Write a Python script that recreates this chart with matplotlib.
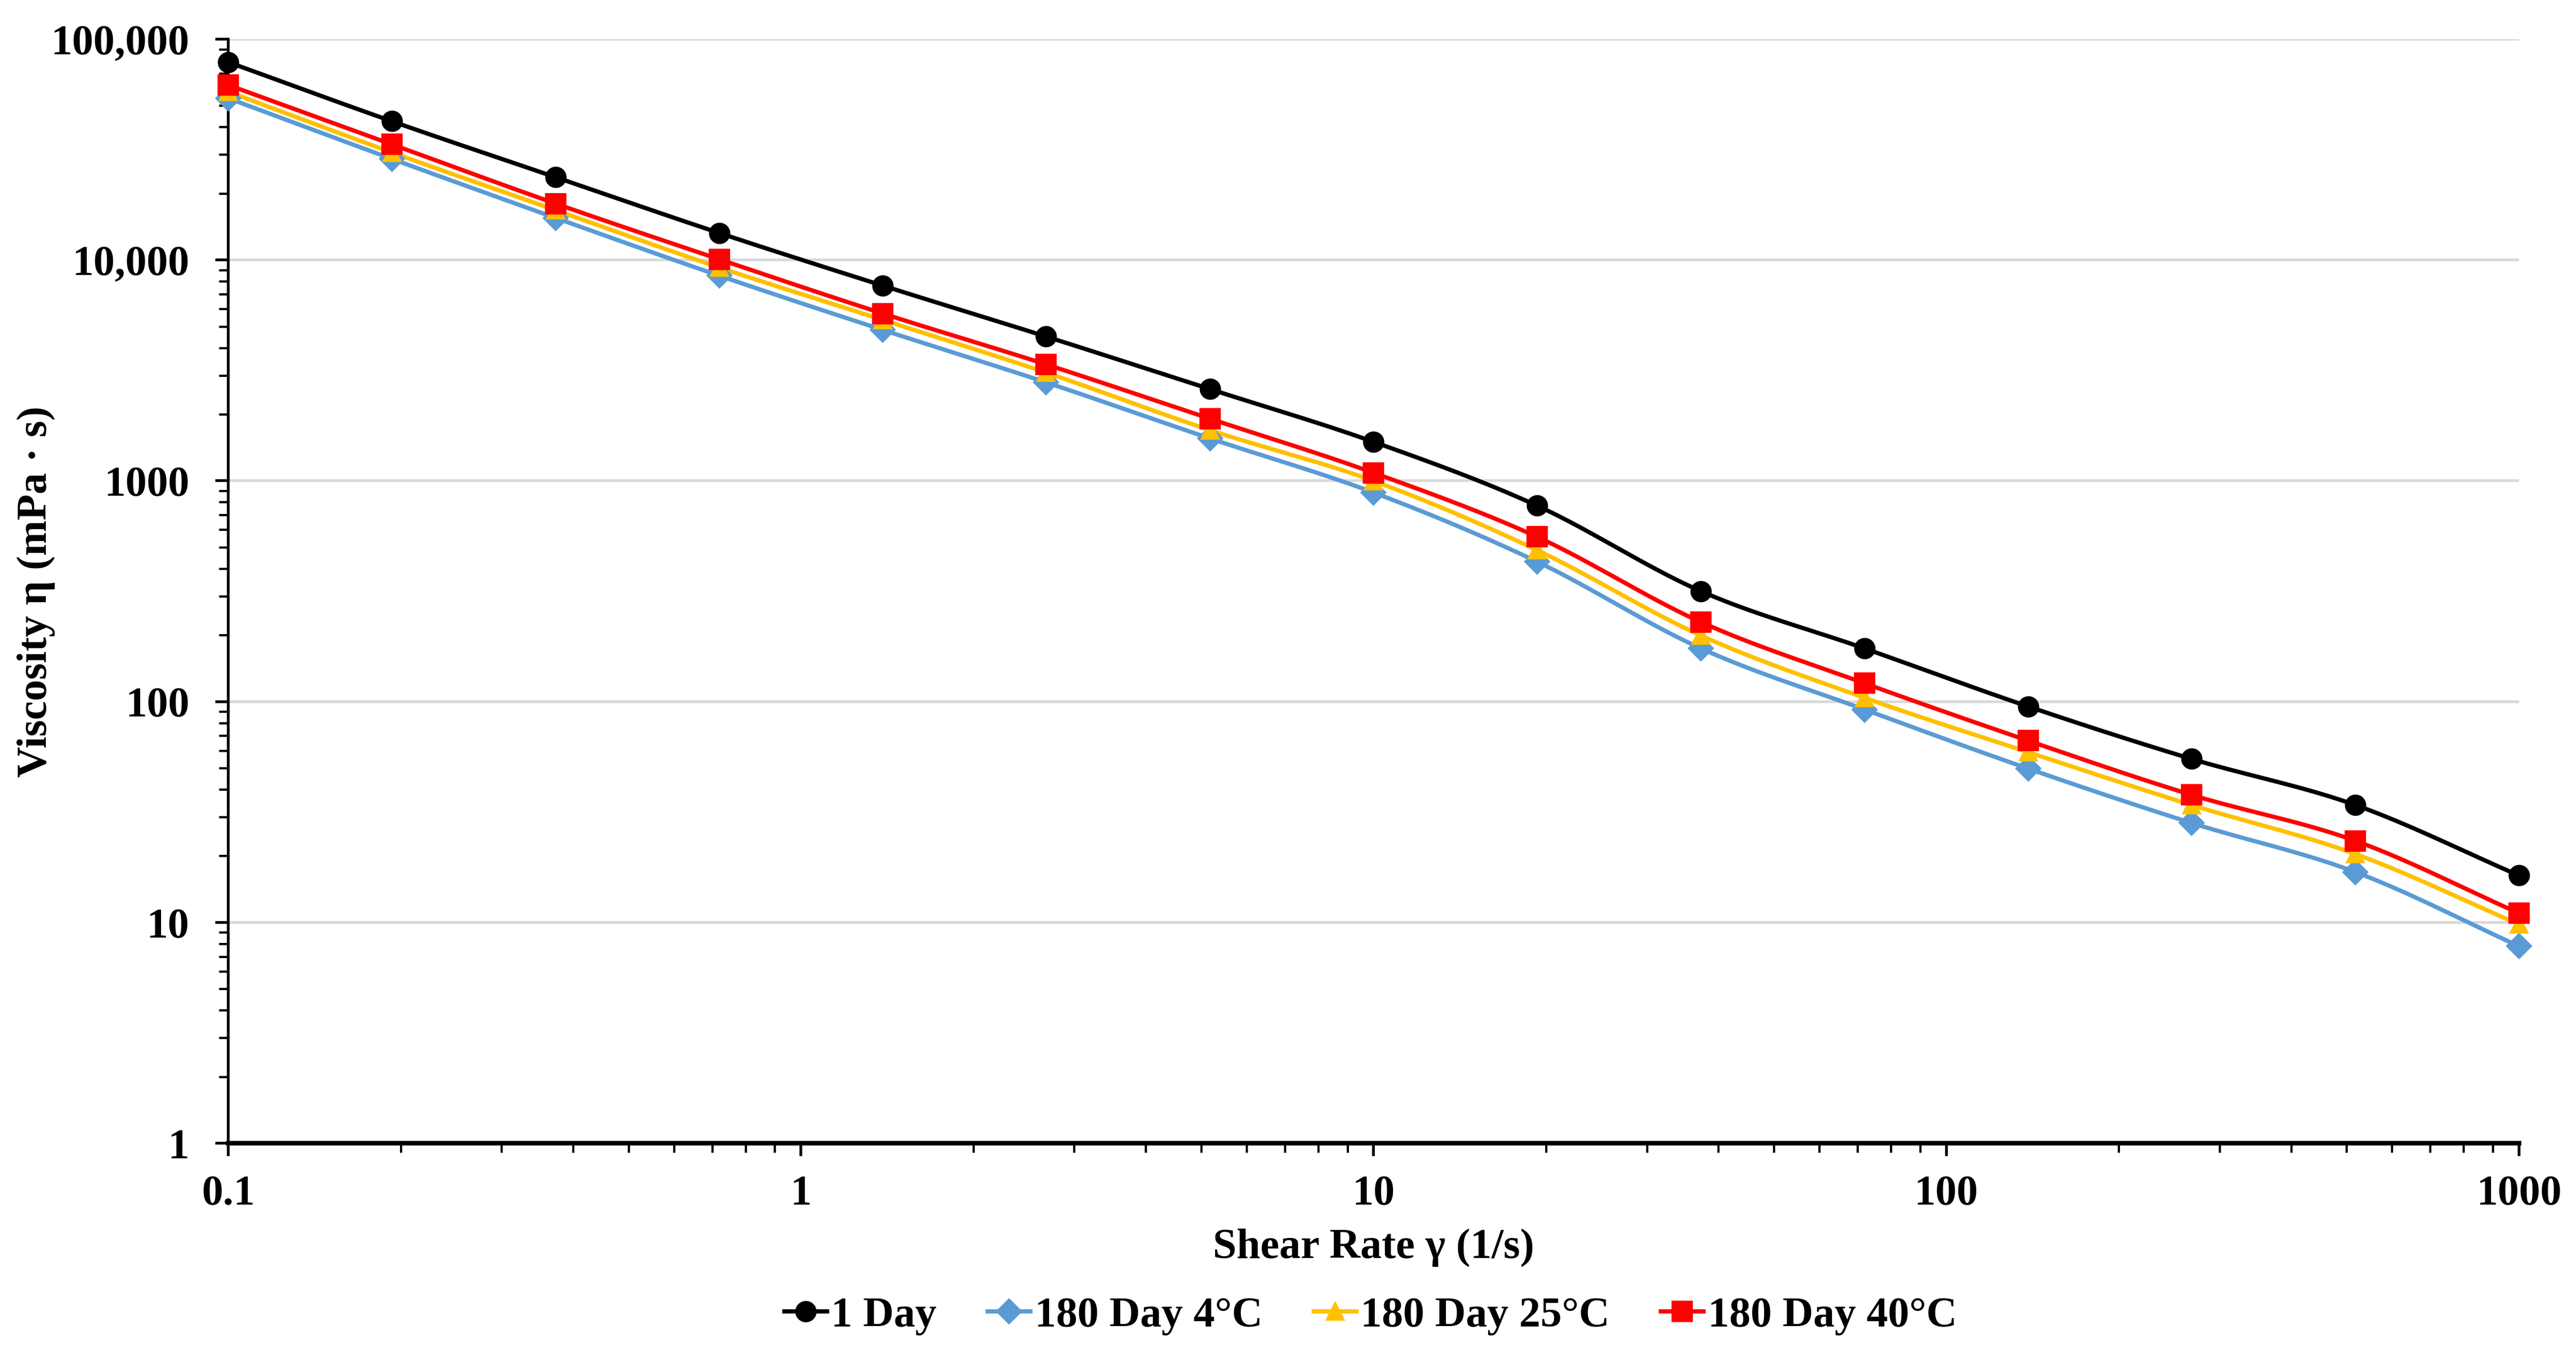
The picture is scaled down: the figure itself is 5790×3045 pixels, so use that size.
import matplotlib
matplotlib.use('Agg')
import matplotlib.pyplot as plt
import matplotlib.ticker as mticker
import numpy as np

shear_rate = [0.1, 0.193, 0.373, 0.72, 1.39, 2.68, 5.18, 10, 19.3, 37.3, 72, 139, 268, 518, 1000]
day1 = [78700, 42500, 23700, 13250, 7650, 4500, 2600, 1500, 771, 316, 174, 95, 55, 34, 16.3]
day180_4c = [54000, 28700, 15500, 8490, 4820, 2790, 1555, 884, 430, 174, 92, 49.7, 28.2, 16.9, 7.8]
day180_25c = [57800, 30700, 16800, 9250, 5350, 3090, 1695, 998, 485, 199, 104, 59, 34, 20.4, 9.8]
day180_40c = [62000, 33400, 18000, 10070, 5720, 3365, 1910, 1086, 557, 229, 121, 66.5, 37.8, 23.4, 11.0]

series = [
    ("1 Day", day1, "#000000", "o"),
    ("180 Day 4°C", day180_4c, "#5B9BD5", "D"),
    ("180 Day 25°C", day180_25c, "#FFC000", "^"),
    ("180 Day 40°C", day180_40c, "#FF0000", "s"),
]


def smooth(x, y, n=20):
    # catmull-rom through the points in log-log space (like excel smoothed lines)
    lx = np.log10(x)
    ly = np.log10(y)
    px = np.concatenate([[2 * lx[0] - lx[1]], lx, [2 * lx[-1] - lx[-2]]])
    py = np.concatenate([[2 * ly[0] - ly[1]], ly, [2 * ly[-1] - ly[-2]]])
    outx, outy = [], []
    t = np.linspace(0, 1, n, endpoint=False)
    for i in range(1, len(px) - 2):
        for arr, out in ((px, outx), (py, outy)):
            p0, p1, p2, p3 = arr[i - 1], arr[i], arr[i + 1], arr[i + 2]
            out.extend(0.5 * ((2 * p1) + (-p0 + p2) * t
                              + (2 * p0 - 5 * p1 + 4 * p2 - p3) * t ** 2
                              + (-p0 + 3 * p1 - 3 * p2 + p3) * t ** 3))
    outx.append(lx[-1])
    outy.append(ly[-1])
    return 10 ** np.array(outx), 10 ** np.array(outy)


FS = 23
plt.rcParams.update({
    "font.family": ["Liberation Serif", "DejaVu Serif"],
    "font.weight": "bold",
    "font.size": FS,
})

fig = plt.figure(figsize=(19.303, 10.153), dpi=300)
ax = fig.add_axes([0.0886, 0.1563, 0.8891, 0.8145])

handles = []
for label, vals, color, marker in series:
    sx, sy = smooth(np.array(shear_rate), np.array(vals))
    ax.plot(sx, sy, color=color, lw=2.3, zorder=3)
    ms = 10.5 if marker in ("o", "s") else 9
    ax.plot(shear_rate, vals, ls="none", marker=marker, color=color, ms=ms,
            zorder=4, clip_on=False)
    h, = ax.plot([], [], color=color, lw=2.3, marker=marker, ms=ms, label=label)
    handles.append(h)

ax.set_xscale("log")
ax.set_yscale("log")
ax.set_xlim(0.1, 1000)
ax.set_ylim(1, 100000)

ax.xaxis.set_major_locator(mticker.LogLocator(base=10))
ax.xaxis.set_major_formatter(mticker.FuncFormatter(lambda v, p: "%g" % v))
ax.xaxis.set_minor_locator(mticker.LogLocator(base=10, subs=np.arange(2, 10)))
ax.xaxis.set_minor_formatter(mticker.NullFormatter())
ax.yaxis.set_major_locator(mticker.LogLocator(base=10))
ax.yaxis.set_major_formatter(mticker.FuncFormatter(
    lambda v, p: "{:,.0f}".format(v) if v >= 10000 else "%g" % v))
ax.yaxis.set_minor_locator(mticker.LogLocator(base=10, subs=np.arange(2, 10)))
ax.yaxis.set_minor_formatter(mticker.NullFormatter())

ax.tick_params(which="major", direction="out", length=7, width=1.5, labelsize=FS)
ax.tick_params(which="minor", direction="out", length=5, width=1.2)
ax.tick_params(axis="x", which="major", pad=10)
ax.tick_params(axis="y", which="major", pad=14)

for s in ("top", "right"):
    ax.spines[s].set_visible(False)
ax.spines["left"].set_linewidth(1.5)
ax.spines["bottom"].set_linewidth(2.5)

ax.grid(axis="y", which="major", color="#D9D9D9", lw=1.5)
ax.set_axisbelow(True)

ax.set_xlabel("Shear Rate γ (1/s)", fontsize=FS, fontweight="bold", labelpad=8)
ax.set_ylabel("Viscosity η (mPa · s)", fontsize=FS, fontweight="bold",
              va="center", ha="center")
ax.yaxis.set_label_coords(-0.084, 0.5)

fig.legend(handles=handles, loc="center", bbox_to_anchor=(0.532, 0.029), ncol=4,
           frameon=False, fontsize=FS, handlelength=1.0, handletextpad=0.1,
           columnspacing=1.2)

fig.savefig("out.png", dpi=300, facecolor="white")
plt.close(fig)
